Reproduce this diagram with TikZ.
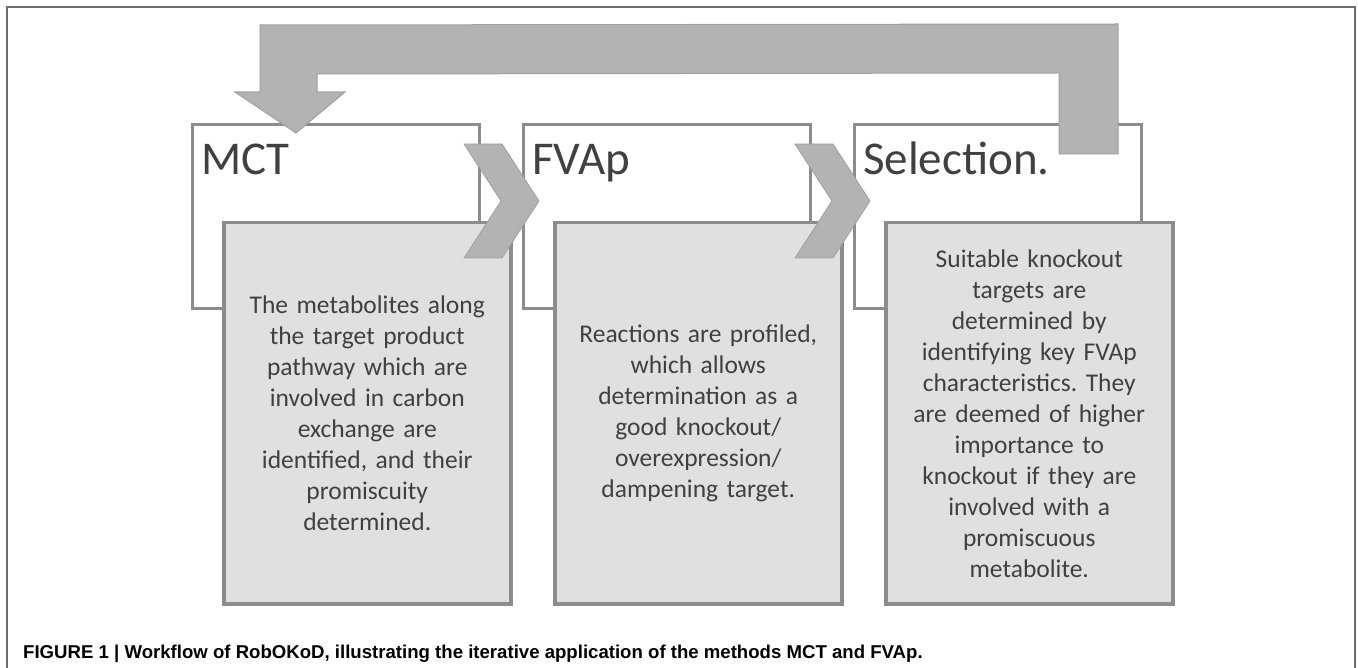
\documentclass[tikz,border=0pt]{standalone}
\usepackage{fontspec}
\setmainfont{Carlito}
\newfontfamily\capfont{Liberation Sans}
\usepackage{tikz}
\usetikzlibrary{positioning,calc}
\frenchspacing

\definecolor{boxline}{HTML}{8C8C8C}
\definecolor{boxfill}{HTML}{E0E0E0}
\definecolor{arrowfill}{HTML}{B3B3B3}
\definecolor{arrowline}{HTML}{A0A0A0}
\definecolor{txtgray}{HTML}{404040}
\definecolor{framegray}{HTML}{6E6E6E}

\begin{document}
\begin{tikzpicture}[x=1pt, y=-1pt,
    stepbox/.style={draw=boxline, line width=3pt, fill=white, minimum width=287pt, minimum height=184pt, inner sep=0pt},
    textbox/.style={draw=boxline, line width=3.5pt, fill=boxfill, minimum width=287pt, minimum height=381pt, inner sep=0pt,
        text width=280pt, align=center, text=txtgray, font=\fontsize{25.5}{31}\selectfont},
    steptitle/.style={text=txtgray, inner sep=0pt, font=\fontsize{47}{56}\selectfont},
    chevron/.style={fill=arrowfill, draw=arrowline, line width=0.8pt},
    loopback/.style={fill=arrowfill, draw=arrowline, line width=1pt},
    caption/.style={inner sep=0pt, font=\capfont\bfseries\fontsize{18.6}{22}\selectfont}]
    \useasboundingbox (0,0) rectangle (1358,668);
    \draw[framegray, line width=1.2pt] (7,668) -- (7,7) -- (1355,7) -- (1355,668);

    % the three steps
    \node[stepbox, anchor=north west] (mct) at (191,123) {};
    \node[stepbox, right=41pt of mct] (fvap) {};
    \node[stepbox, right=41pt of fvap] (sel) {};

    \node[steptitle, anchor=base west] (mcttitle) at ([xshift=10pt,yshift=-52pt]mct.north west) {MCT};
    \node[steptitle, anchor=base west] (fvaptitle) at ([xshift=10pt,yshift=-52pt]fvap.north west) {FVAp};
    \node[steptitle, anchor=base west] (seltitle) at ([xshift=10pt,yshift=-52pt]sel.north west) {Selection.};

    \node[textbox, anchor=north west] (mcttxt) at ([xshift=31pt,yshift=-98pt]mct.north west)
        {The metabolites along\\the target product\\pathway which are\\involved in carbon\\exchange are\\identified, and their\\promiscuity\\determined.};
    \node[textbox, anchor=north west] (fvaptxt) at ([xshift=31pt,yshift=-98pt]fvap.north west)
        {Reactions are profiled,\\which allows\\determination as a\\good knockout/\\overexpression/\\dampening target.\\[14pt]};
    \node[textbox, anchor=north west] (seltxt) at ([xshift=31pt,yshift=-98pt]sel.north west)
        {Suitable knockout\\targets are\\determined by\\identifying key FVAp\\characteristics. They\\are deemed of higher\\importance to\\knockout if they are\\involved with a\\promiscuous\\metabolite.};

    % chevrons between steps
    \foreach \s in {mct,fvap}
        \draw[chevron] ([xshift=-17pt,yshift=-21pt]\s.north east) -- ++(38,0) -- ++(37,57) -- ++(-37,57) -- ++(-38,0) -- ++(37,-57) -- cycle;

    % feedback arrow from Selection back to MCT
    \coordinate (fbstart) at ([xshift=-25pt,yshift=-31pt]sel.north east);
    \coordinate (fbtip) at ([xshift=105pt,yshift=-10pt]mct.north west);
    \draw[loopback] (fbstart) -- ++(0,-130) -- ($(fbtip)+(-36,-108)$) -- ++(0,67) -- ++(-25,0) -- (fbtip)
        -- ++(49,-41) -- ++(-28,0) -- ++(0,-18) -- ($(fbstart)+(-59,-81)$) -- ++(0,81) -- cycle;

    \node[caption, anchor=base west] (cap) at (23,658)
        {FIGURE 1 | Workflow of RobOKoD, illustrating the iterative application of the methods MCT and FVAp.};
\end{tikzpicture}
\end{document}
